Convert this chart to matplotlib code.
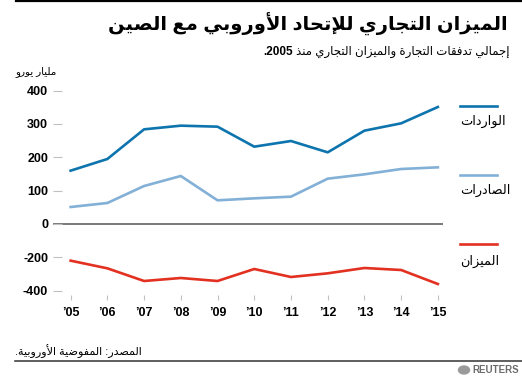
import re
import matplotlib
matplotlib.use("Agg")
import matplotlib.pyplot as plt
from matplotlib.lines import Line2D
from matplotlib.patches import Circle

plt.rcParams["font.family"] = ["Liberation Sans", "DejaVu Sans"]

years = [2005, 2006, 2007, 2008, 2009, 2010, 2011, 2012, 2013, 2014, 2015]
year_labels = ["’05", "’06", "’07", "’08", "’09", "’10", "’11", "’12", "’13", "’14", "’15"]
imports = [160, 195, 284, 295, 292, 232, 249, 215, 280, 302, 351]
exports = [51, 63, 114, 144, 71, 77, 82, 136, 149, 165, 170]
balance = [-110, -133, -171, -162, -171, -135, -159, -148, -132, -138, -180]
y_ticks = [400, 300, 200, 100, 0, -100, -200]
y_tick_labels = ["400", "300", "200", "100", "0", "-200", "-400"]

title = "الميزان التجاري للإتحاد الأوروبي مع الصين"
subtitle = "إجمالي تدفقات التجارة والميزان التجاري منذ"
subtitle_year = "2005."
unit = "مليار يورو"
series_names = ["الواردات", "الصادرات", "الميزان"]
source = "المصدر: المفوضية الأوروبية."

# minimal arabic shaping (no reshaper lib in the sandbox)
ISO = {"ء": 0xFE80, "آ": 0xFE81, "أ": 0xFE83, "ؤ": 0xFE85, "إ": 0xFE87, "ئ": 0xFE89,
       "ا": 0xFE8D, "ب": 0xFE8F, "ة": 0xFE93, "ت": 0xFE95, "ث": 0xFE99, "ج": 0xFE9D,
       "ح": 0xFEA1, "خ": 0xFEA5, "د": 0xFEA9, "ذ": 0xFEAB, "ر": 0xFEAD, "ز": 0xFEAF,
       "س": 0xFEB1, "ش": 0xFEB5, "ص": 0xFEB9, "ض": 0xFEBD, "ط": 0xFEC1, "ظ": 0xFEC5,
       "ع": 0xFEC9, "غ": 0xFECD, "ف": 0xFED1, "ق": 0xFED5, "ك": 0xFED9, "ل": 0xFEDD,
       "م": 0xFEE1, "ن": 0xFEE5, "ه": 0xFEE9, "و": 0xFEED, "ى": 0xFEEF, "ي": 0xFEF1}
RIGHT_ONLY = set("آأؤإاةدذرزوى")
LAM_ALEF = {"آ": 0xFEF5, "أ": 0xFEF7, "إ": 0xFEF9, "ا": 0xFEFB}


def dual(c):
    return c in ISO and c not in RIGHT_ONLY and c != "ء"


def shape(text):
    out = []
    i = 0
    n = len(text)
    while i < n:
        c = text[i]
        if c not in ISO:
            out.append(c)
            i += 1
            continue
        join_prev = i > 0 and dual(text[i - 1])
        if c == "ل" and i + 1 < n and text[i + 1] in LAM_ALEF:
            out.append(chr(LAM_ALEF[text[i + 1]] + (1 if join_prev else 0)))
            i += 2
            continue
        join_next = dual(c) and i + 1 < n and text[i + 1] in ISO
        if c == "ء":
            off = 0
        elif join_prev and join_next:
            off = 3
        elif join_prev:
            off = 1
        elif join_next:
            off = 2
        else:
            off = 0
        out.append(chr(ISO[c] + off))
        i += 1
    return "".join(out)


def rtl(text):
    s = shape(text)[::-1]
    return re.sub(r"[0-9]+", lambda m: m.group(0)[::-1], s)


W, H = 522, 378


def px(x, y):
    return x / W, 1 - y / H


fig = plt.figure(figsize=(W / 100, H / 100), dpi=100)
ax = fig.add_axes([53 / W, 1 - 295 / H, 390 / W, 210 / H])

ax.plot(years, imports, color="#0d74ad", lw=1.9)
ax.plot(years, exports, color="#82b0d6", lw=1.9)
ax.plot(years, balance, color="#e23121", lw=1.9)
ax.axhline(0, color="#555555", lw=1.1, zorder=0)

ax.set_xlim(2004.52, 2015.14)
ax.set_ylim(-213, 417)
ax.set_xticks(years)
ax.set_xticklabels(year_labels, fontsize=9, fontweight="bold")
ax.set_yticks(y_ticks)
ax.set_yticklabels(y_tick_labels, fontsize=9, fontweight="bold")
ax.tick_params(axis="y", direction="in", length=6.5, width=0.8, color="#c0c0c0", pad=3.6)
ax.tick_params(axis="x", direction="out", length=3.6, width=0.8, color="#c0c0c0", pad=5)
for s in ax.spines.values():
    s.set_visible(False)

# legend at right
legend_items = [(series_names[0], "#0d74ad", 105.7, 121.7),
                (series_names[1], "#82b0d6", 175.3, 190.7),
                (series_names[2], "#e23121", 244, 261)]
for name, col, ly, ty in legend_items:
    x0, y0 = px(460, ly)
    x1, _ = px(497, ly)
    fig.add_artist(Line2D([x0, x1], [y0, y0], color=col, lw=1.9, transform=fig.transFigure))
    fig.text(*px(460, ty), rtl(name), fontsize=9.3, ha="left", va="center")

# titles
fig.text(*px(508, 24), rtl(title), fontsize=14, fontweight="bold", ha="right", va="center")
sub = fig.text(*px(510, 52), rtl(subtitle), fontsize=8.5, ha="right", va="center")
renderer = fig.canvas.get_renderer()
sub_left = sub.get_window_extent(renderer).x0
fig.text(sub_left - 4, px(0, 52)[1] * H, rtl(subtitle_year), fontsize=8.5, fontweight="bold",
         ha="right", va="center", transform=None)
fig.text(*px(15, 72), rtl(unit), fontsize=7.5, ha="left", va="center")
fig.text(*px(15, 351), rtl(source), fontsize=8, ha="left", va="center")

# rules
fig.add_artist(Line2D([16 / W, 1], [1 - 1.2 / H] * 2, color="black", lw=1.6, transform=fig.transFigure))
fig.add_artist(Line2D([15 / W, 1], [1 - 361 / H] * 2, color="#333333", lw=1.1, transform=fig.transFigure))

# reuters mark
fig.add_artist(Circle(px(464, 370), 5.5 / W, color="#9a9a9a", transform=fig.transFigure))
fig.text(*px(472, 370), "REUTERS", fontsize=7, fontweight="bold", color="#6d6d6d", ha="left", va="center")

fig.savefig("out.png", dpi=100)
